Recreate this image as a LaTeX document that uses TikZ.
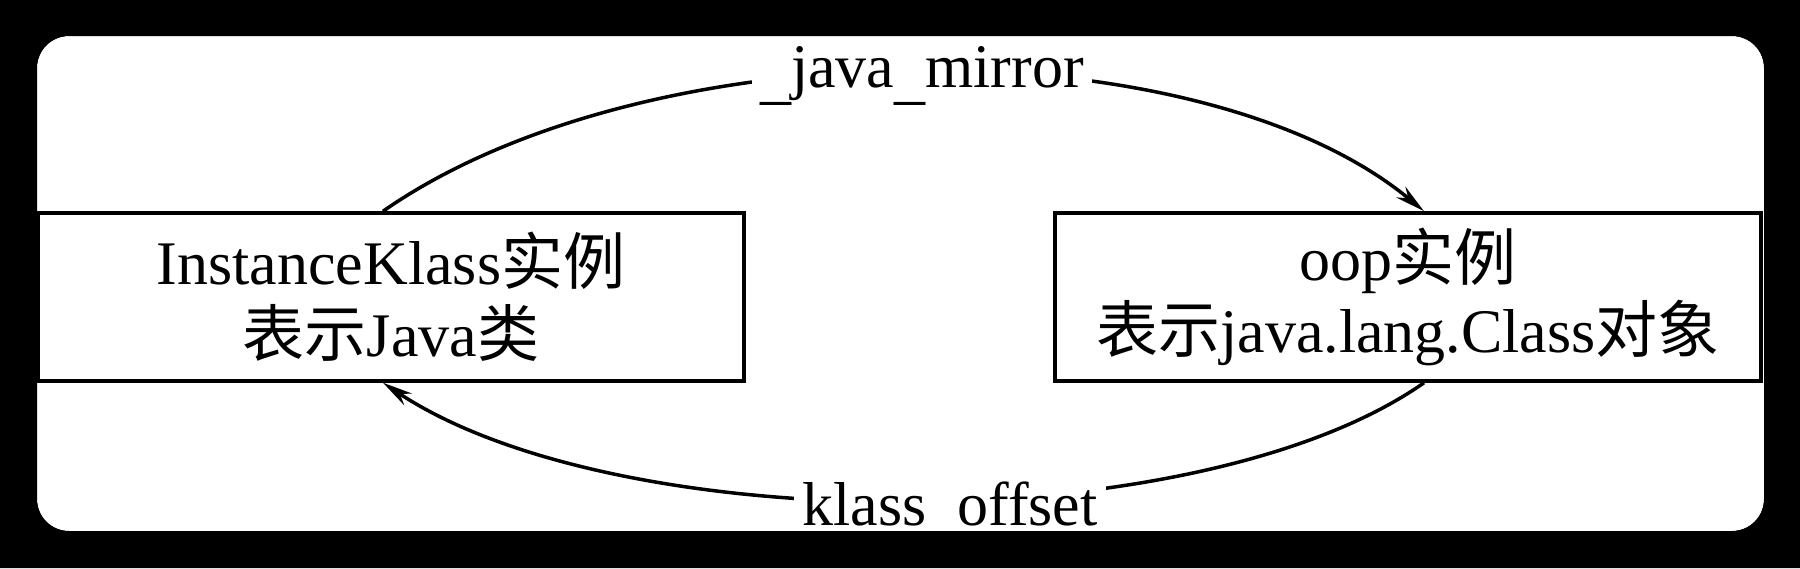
\documentclass[tikz,border=0pt]{standalone}
\usepackage{fontspec}
\setmainfont{Liberation Serif}
\newfontfamily\cjk{Noto Sans CJK SC}
\usetikzlibrary{arrows.meta}
\newcommand{\lowus}{\raisebox{-10pt}{\_}}
\begin{document}
\begin{tikzpicture}[x=1pt,y=-1pt,
  box/.style={draw, line width=3.5pt, minimum width=706pt, minimum height=168pt, align=center, font=\fontsize{62}{72}\selectfont, inner sep=0pt},
  lbl/.style={font=\fontsize{62}{72}\selectfont, inner ysep=0pt, inner xsep=8pt, anchor=base, fill=white},
  conn/.style={line width=3.5pt, -{Stealth[length=30pt,width=14pt]}}]
\useasboundingbox (0,0) rectangle (1800,568);
\fill[black] (0,0) rectangle (1800,568);
\fill[white, rounded corners=32pt] (37,36) rectangle (1764,531);
\node[box] (ik) at (391,297) {InstanceKlass{\cjk 实例}\\{\cjk 表示}Java{\cjk 类}};
\node[box] (oop) at (1408,297) {oop{\cjk 实例}\\{\cjk 表示}java.lang.Class{\cjk 对象}};
\draw[conn] ([xshift=-8pt]ik.north) .. controls (650,25) and (1200,25) .. ([xshift=16pt]oop.north);
\draw[conn] ([xshift=16pt]oop.south) .. controls (1200,540) and (620,540) .. ([xshift=-8pt]ik.south);
\node[lbl] (jm) at (922,87) {\lowus java\lowus mirror};
\node[lbl] (ko) at (950,525) {klass\lowus offset};
\fill[black, even odd rule] (0,0) rectangle (1800,568) {[rounded corners=32pt] (37,36) rectangle (1764,531)};
\end{tikzpicture}
\end{document}
